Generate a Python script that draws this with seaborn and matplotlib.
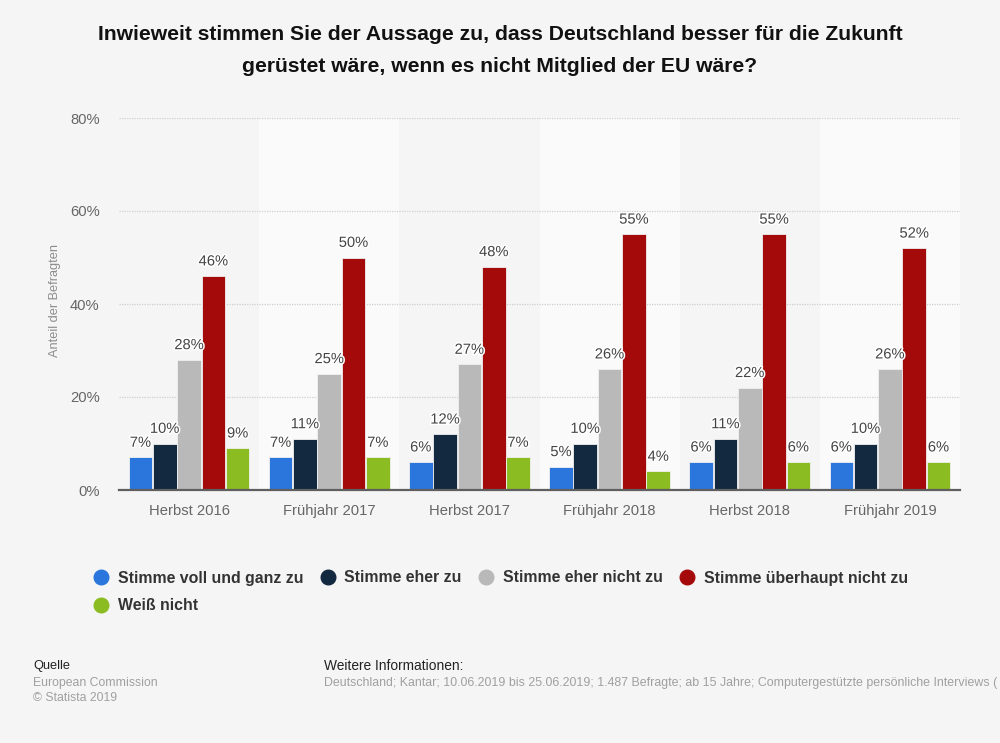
import matplotlib
matplotlib.use("Agg")
import matplotlib.pyplot as plt
import matplotlib.patheffects as pe
from matplotlib.lines import Line2D
from matplotlib.ticker import FuncFormatter
import pandas as pd
import seaborn as sns

periods = ["Herbst 2016", "Frühjahr 2017", "Herbst 2017", "Frühjahr 2018", "Herbst 2018", "Frühjahr 2019"]
voll = [7, 7, 6, 5, 6, 6]
eher = [10, 11, 12, 10, 11, 10]
eher_nicht = [28, 25, 27, 26, 22, 26]
ueberhaupt = [46, 50, 48, 55, 55, 52]
weiss = [9, 7, 7, 4, 6, 6]
names = ["Stimme voll und ganz zu", "Stimme eher zu", "Stimme eher nicht zu", "Stimme überhaupt nicht zu", "Weiß nicht"]
colors = ["#2a76dd", "#12293f", "#b9b9b9", "#a50a0a", "#8bbc21"]
series = [voll, eher, eher_nicht, ueberhaupt, weiss]

BG = "#f5f5f5"
sns.set_theme(style="white")
plt.rcParams["font.family"] = ["Liberation Sans", "DejaVu Sans"]

df = pd.DataFrame([
    {"Zeitpunkt": p, "Antwort": n, "Wert": v}
    for n, vals in zip(names, series) for p, v in zip(periods, vals)
])

W, H = 1000, 743
fig = plt.figure(figsize=(W / 100, H / 100), dpi=100, facecolor=BG)
ax = fig.add_axes([119 / W, 1 - 490 / H, (960 - 119) / W, (490 - 118) / H], facecolor=BG)

sns.barplot(data=df, x="Zeitpunkt", y="Wert", hue="Antwort", hue_order=names, order=periods,
            palette=colors, width=0.867, gap=0.03, saturation=1, edgecolor="#f0f0f0",
            linewidth=0.6, legend=False, ax=ax, zorder=3)

ax.set_xlim(-0.5, len(periods) - 0.5)
ax.set_ylim(0, 80)
for i in range(1, len(periods), 2):
    ax.axvspan(i - 0.5, i + 0.5, color="#fafafa", lw=0, zorder=0)

ax.set_yticks([0, 20, 40, 60, 80])
ax.yaxis.set_major_formatter(FuncFormatter(lambda v, _: f"{v:.0f}%"))
ax.grid(axis="y", color="#cfcfcf", linestyle=(0, (1, 1)), linewidth=0.9, zorder=1)
ax.set_axisbelow(True)
for s in ["top", "left", "right"]:
    ax.spines[s].set_visible(False)
ax.spines["bottom"].set_color("#5f5f5f")
ax.spines["bottom"].set_linewidth(1.6)
ax.spines["bottom"].set_zorder(5)
ax.tick_params(axis="x", length=0, labelsize=10.6, labelcolor="#666666", pad=10)
ax.tick_params(axis="y", length=0, labelsize=10.6, labelcolor="#666666", pad=14)
ax.set_xlabel("")
ax.set_ylabel("Anteil der Befragten", fontsize=9.2, color="#8c8c8c", labelpad=6, y=0.51)

for cont in ax.containers:
    ax.bar_label(cont, fmt="%d%%", padding=5.5, fontsize=10.6, color="#444444", zorder=6,
                 path_effects=[pe.withStroke(linewidth=2.2, foreground="white")])

fig.text(0.5, 1 - 34 / H, "Inwieweit stimmen Sie der Aussage zu, dass Deutschland besser für die Zukunft",
         ha="center", va="center", fontsize=15.2, fontweight="bold", color="#111111")
fig.text(0.5, 1 - 66.5 / H, "gerüstet wäre, wenn es nicht Mitglied der EU wäre?",
         ha="center", va="center", fontsize=15.2, fontweight="bold", color="#111111")

handles = [Line2D([], [], linestyle="", marker="o", markersize=10.5, color=c, label=n)
           for c, n in zip(colors, names)]
legend_font = {"size": 11.4, "weight": "bold"}
first_row = fig.legend(handles=handles[:4], ncols=4, loc="center left", bbox_to_anchor=(93 / W, 1 - 578 / H),
                       frameon=False, prop=legend_font, labelcolor="#333333",
                       handlelength=1.0, handletextpad=0.55, columnspacing=1.05,
                       borderpad=0, borderaxespad=0)
second_row = fig.legend(handles=handles[4:], ncols=1, loc="center left", bbox_to_anchor=(93 / W, 1 - 606 / H),
                        frameon=False, prop=legend_font, labelcolor="#333333",
                        handlelength=1.0, handletextpad=0.55,
                        borderpad=0, borderaxespad=0)

fig.text(33 / W, 1 - 666.5 / H, "Quelle", ha="left", va="center", fontsize=9.2, color="#222222")
fig.text(33 / W, 1 - 683 / H, "European Commission", ha="left", va="center", fontsize=8.8, color="#a0a0a0")
fig.text(33 / W, 1 - 698 / H, "© Statista 2019", ha="left", va="center", fontsize=8.8, color="#a0a0a0")
fig.text(324 / W, 1 - 666.5 / H, "Weitere Informationen:", ha="left", va="center", fontsize=9.9, color="#222222")
fig.text(324 / W, 1 - 683 / H,
         "Deutschland; Kantar; 10.06.2019 bis 25.06.2019; 1.487 Befragte; ab 15 Jahre; Computergestützte persönliche Interviews (",
         ha="left", va="center", fontsize=8.9, color="#a0a0a0")

fig.savefig("out.png", dpi=100, facecolor=BG)
